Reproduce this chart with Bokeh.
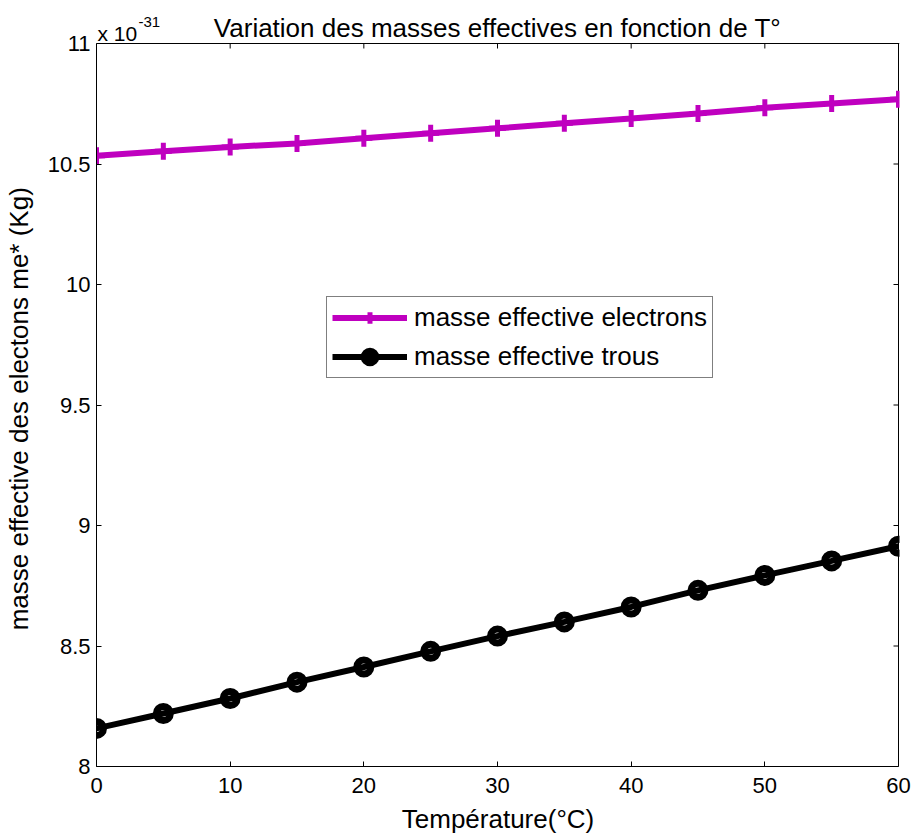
from bokeh.plotting import figure
from bokeh.models import FixedTicker, NumeralTickFormatter, Label, Legend, Range1d, Span
from bokeh.embed import file_html
from bokeh.resources import INLINE

T = [0, 5, 10, 15, 20, 25, 30, 35, 40, 45, 50, 55, 60]
m_electrons = [10.534, 10.553, 10.571, 10.585, 10.607, 10.628, 10.648, 10.669, 10.689, 10.710, 10.733, 10.751, 10.769]
m_trous = [8.158, 8.220, 8.282, 8.350, 8.413, 8.478, 8.541, 8.600, 8.662, 8.731, 8.793, 8.853, 8.914]
xticks = [0, 10, 20, 30, 40, 50, 60]
yticks = [8, 8.5, 9, 9.5, 10, 10.5, 11]

title_text = "Variation des masses effectives en fonction de T°"
xlabel = "Température(°C)"
ylabel = "masse effective des electons me* (Kg)"
exp_base = "x 10"
exp_power = "-31"
label_e = "masse effective electrons"
label_h = "masse effective trous"

FONT = "Liberation Sans"
PURPLE = "#bf00bf"

# layout constants (pixels)
FRAME_W, PLOT_H = 803, 723
TOP_SPACE = 43
PX_PER_X = 802 / (xticks[-1] - xticks[0])
PX_PER_Y = PLOT_H / (yticks[-1] - yticks[0])
x0, x1 = xticks[0], xticks[-1]
y0, y1 = yticks[0], yticks[-1]
x_end = x0 + FRAME_W / PX_PER_X
y_end = y1 + TOP_SPACE / PX_PER_Y
TICK = 5
# the frame also holds the title strip, so the y label (centred on the frame)
# is padded at its end with no-break spaces to centre it on the box itself
YLABEL_PAD = "\u00a0" * 7

p = figure(width=912, height=836, frame_width=FRAME_W, frame_height=PLOT_H + TOP_SPACE,
           x_range=Range1d(x0, x_end), y_range=Range1d(y0, y_end),
           output_backend="svg", toolbar_location=None,
           min_border_left=96, min_border_right=13, min_border_top=0, min_border_bottom=70)
p.background_fill_color = "white"
p.border_fill_color = "white"
p.outline_line_color = None
p.xgrid.visible = False
p.ygrid.visible = False

def style_axis(ax, ticks):
    ax.ticker = FixedTicker(ticks=ticks)
    ax.major_tick_in = TICK
    ax.major_tick_out = 0
    ax.minor_tick_in = 0
    ax.minor_tick_out = 0
    ax.axis_line_color = "black"
    ax.major_tick_line_color = "black"
    ax.major_label_text_font = FONT
    ax.major_label_text_font_size = "22px"
    ax.major_label_text_color = "black"
    ax.axis_label_text_font = FONT
    ax.axis_label_text_font_size = "26px"
    ax.axis_label_text_font_style = "normal"
    ax.axis_label_text_color = "black"

xa = p.xaxis[0]
style_axis(xa, xticks)
xa.bounds = (x0, x1)
xa.axis_label = xlabel
xa.major_label_standoff = 11
xa.axis_label_standoff = 8

ya = p.yaxis[0]
style_axis(ya, yticks)
ya.bounds = (y0, y1)
ya.axis_label = ylabel + YLABEL_PAD
ya.formatter = NumeralTickFormatter(format="0.[0]")
ya.major_label_standoff = 6
ya.axis_label_standoff = 11

# box top and right edges with inward ticks (MATLAB style)
p.add_layout(Span(location=y1, dimension="width", line_color="black", line_width=1))
p.segment(x0=[x1], y0=[y0], x1=[x1], y1=[y1], line_color="black", line_width=1)
p.segment(x0=xticks, y0=[y1] * len(xticks), x1=xticks,
          y1=[y1 - TICK / PX_PER_Y] * len(xticks), line_color="black", line_width=1)
p.segment(x0=[x1] * len(yticks), y0=yticks, x1=[x1 - TICK / PX_PER_X] * len(yticks),
          y1=yticks, line_color="black", line_width=1)

l1 = p.line(T, m_electrons, line_color=PURPLE, line_width=6)
s1 = p.scatter(T, m_electrons, marker="cross", size=17, line_color=PURPLE, line_width=5)
l2 = p.line(T, m_trous, line_color="black", line_width=6)
s2 = p.scatter(T, m_trous, marker="circle", size=14, line_color="black", fill_alpha=0, line_width=7)

legend = Legend(items=[(label_e, [l1, s1]), (label_h, [l2, s2])],
                location=(230, 388), orientation="vertical")
legend.padding = 5
legend.spacing = 8
legend.margin = 0
legend.glyph_width = 75
legend.glyph_height = 29
legend.label_height = 29
legend.label_standoff = 7
legend.label_text_font = FONT
legend.label_text_font_size = "26px"
legend.label_text_color = "black"
legend.border_line_color = "black"
legend.border_line_width = 1
legend.background_fill_color = "white"
legend.background_fill_alpha = 1
p.add_layout(legend, "center")

p.add_layout(Label(x=(x0 + x1) / 2, y=y1, text=title_text,
                   y_offset=16, text_align="center", text_baseline="alphabetic",
                   text_font=FONT, text_font_size="26px", text_color="black"))
p.add_layout(Label(x=x0, y=y1, text=exp_base, x_offset=1, y_offset=10,
                   text_align="left", text_baseline="alphabetic",
                   text_font=FONT, text_font_size="21px", text_color="black"))
p.add_layout(Label(x=x0, y=y1, text=exp_power, x_offset=42, y_offset=22,
                   text_align="left", text_baseline="alphabetic",
                   text_font=FONT, text_font_size="15px", text_color="black"))

open("out.html", "w").write(file_html(p, INLINE))
